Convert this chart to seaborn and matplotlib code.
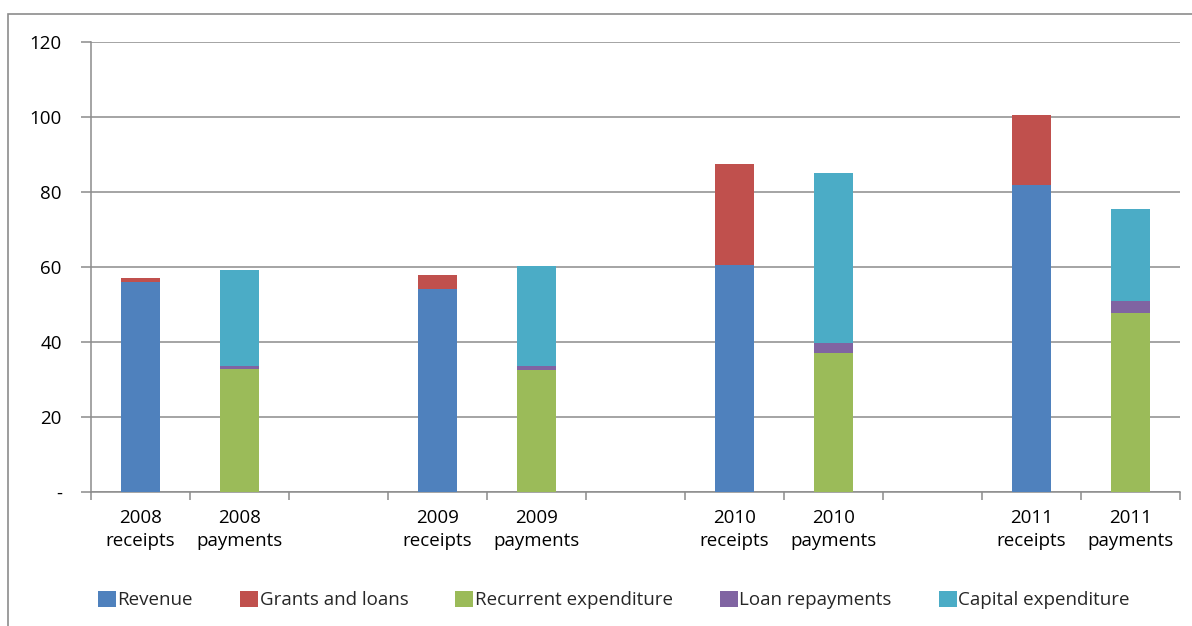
import numpy as np
import pandas as pd
import matplotlib
matplotlib.use("Agg")
import matplotlib.pyplot as plt
from matplotlib.patches import Rectangle, Patch
from matplotlib.ticker import FixedLocator, FuncFormatter
import seaborn as sns

# Category slots (blank slots separate the years)
categories = ["2008\nreceipts", "2008\npayments", " ",
              "2009\nreceipts", "2009\npayments", "  ",
              "2010\nreceipts", "2010\npayments", "   ",
              "2011\nreceipts", "2011\npayments"]
receipt_cats = ["2008\nreceipts", "2009\nreceipts", "2010\nreceipts", "2011\nreceipts"]
payment_cats = ["2008\npayments", "2009\npayments", "2010\npayments", "2011\npayments"]

# Receipts components
revenue = [56.1, 54.1, 60.6, 82.0]
grants_and_loans = [0.9, 3.8, 26.9, 18.5]
# Payments components
recurrent_expenditure = [32.8, 32.5, 37.2, 47.8]
loan_repayments = [0.9, 1.2, 2.6, 3.1]
capital_expenditure = [25.5, 26.5, 45.4, 24.6]

series_names = ["Revenue", "Grants and loans", "Recurrent expenditure",
                "Loan repayments", "Capital expenditure"]
colors = {"Revenue": "#4F81BD", "Grants and loans": "#C0504D",
          "Recurrent expenditure": "#9BBB59", "Loan repayments": "#8064A2",
          "Capital expenditure": "#4BACC6"}

FS = 13.5

sns.set_theme(style="white")
plt.rcParams["font.family"] = ["Open Sans", "DejaVu Sans"]

fig = plt.figure(figsize=(11.92, 6.26), dpi=100)
ax = fig.add_axes([91 / 1192, 1 - 492 / 626, (1180 - 91) / 1192, (492 - 42) / 626])

rec = np.array(revenue)
grt = np.array(grants_and_loans)
rcx = np.array(recurrent_expenditure)
lrp = np.array(loan_repayments)
cap = np.array(capital_expenditure)

# Stacked bars drawn as overlapping cumulative totals, tallest layer first
layers = [
    (receipt_cats, rec + grt, "Grants and loans"),
    (payment_cats, rcx + lrp + cap, "Capital expenditure"),
    (payment_cats, rcx + lrp, "Loan repayments"),
    (receipt_cats, rec, "Revenue"),
    (payment_cats, rcx, "Recurrent expenditure"),
]
for cats, vals, name in layers:
    df = pd.DataFrame({"cat": cats, "val": vals})
    sns.barplot(data=df, x="cat", y="val", order=categories, color=colors[name],
                saturation=1, width=0.4, ax=ax, errorbar=None, zorder=3,
                edgecolor="none")

ax.set_xlim(-0.5, len(categories) - 0.5)
ax.set_ylim(0, 120)
ax.set_xlabel("")
ax.set_ylabel("")

# y axis
ax.yaxis.set_major_locator(FixedLocator([0, 20, 40, 60, 80, 100, 120]))
ax.yaxis.set_major_formatter(FuncFormatter(lambda v, p: "-" if v == 0 else f"{v:.0f}"))
ax.grid(axis="y", color="#8C8C8C", linewidth=1.1, zorder=0)
ax.set_axisbelow(True)

# x axis: labels at centres, tick marks at slot boundaries
ax.set_xticks(range(len(categories)))
ax.set_xticklabels(categories, linespacing=1.35)
ax.xaxis.set_minor_locator(FixedLocator(np.arange(-0.5, len(categories), 1.0)))
ax.tick_params(axis="x", which="major", length=0, pad=12, labelsize=FS, colors="black")
ax.tick_params(axis="x", which="minor", bottom=True, length=6, width=1.1, color="#8C8C8C")
ax.tick_params(axis="y", left=True, length=7, width=1.1, color="#8C8C8C",
               labelsize=FS, pad=14, labelcolor="black")

for side in ["top", "right"]:
    ax.spines[side].set_visible(False)
for side in ["left", "bottom"]:
    ax.spines[side].set_color("#8C8C8C")
    ax.spines[side].set_linewidth(1.1)

# Legend along the bottom
handles = [Patch(facecolor=colors[n], edgecolor="none") for n in series_names]
fig.legend(handles, series_names, loc="center", bbox_to_anchor=(0.515, 26 / 626),
           ncol=5, frameon=False, fontsize=FS, handlelength=0.95, handleheight=0.95,
           handletextpad=0.1, columnspacing=2.5)

# Chart area border
fig.patches.append(Rectangle((8 / 1192, -0.05), 1.1, 1 - 14 / 626 + 0.05,
                             transform=fig.transFigure, fill=False,
                             edgecolor="#8C8C8C", linewidth=1.2))

fig.savefig("out.png", dpi=100)
